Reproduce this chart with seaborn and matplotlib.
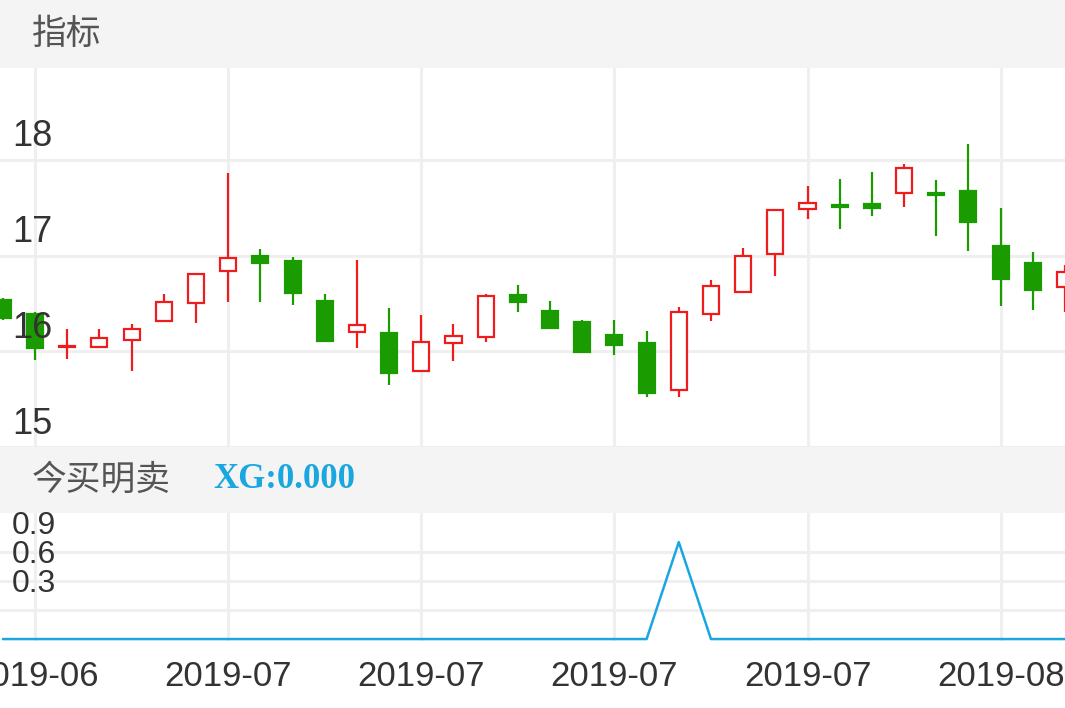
import numpy as np
import pandas as pd
import matplotlib
matplotlib.use("Agg")
import matplotlib.pyplot as plt
import seaborn as sns

# Données (open, close, high, low)
opens  = [16.54, 16.39, 16.04, 16.04, 16.12, 16.32, 16.50, 16.84, 17.00, 16.94, 16.53, 16.20,
          16.19, 15.79, 16.09, 16.15, 16.59, 16.42, 16.31, 16.17, 16.09, 15.60, 16.39, 16.62,
          17.02, 17.49, 17.53, 17.54, 17.65, 17.65, 17.68, 17.10, 16.92, 16.67]
closes = [16.35, 16.03, 16.06, 16.14, 16.23, 16.51, 16.81, 16.97, 16.92, 16.61, 16.11, 16.27,
          15.77, 16.10, 16.16, 16.58, 16.51, 16.24, 15.99, 16.07, 15.56, 16.41, 16.68, 17.00,
          17.48, 17.55, 17.51, 17.50, 17.91, 17.63, 17.35, 16.76, 16.64, 16.83]
highs  = [16.56, 16.41, 16.23, 16.23, 16.28, 16.60, 16.82, 17.86, 17.07, 16.98, 16.60, 16.95,
          16.45, 16.38, 16.29, 16.60, 16.69, 16.53, 16.33, 16.33, 16.21, 16.46, 16.75, 17.08,
          17.49, 17.73, 17.80, 17.87, 17.96, 17.79, 18.17, 17.50, 17.04, 16.90]
lows   = [16.33, 15.91, 15.92, 16.04, 15.79, 16.32, 16.30, 16.52, 16.52, 16.48, 16.11, 16.03,
          15.65, 15.78, 15.90, 16.10, 16.41, 16.23, 15.99, 15.96, 15.52, 15.52, 16.32, 16.62,
          16.79, 17.38, 17.28, 17.41, 17.51, 17.20, 17.05, 16.47, 16.43, 16.41]
xg = [0] * 34
xg[21] = 1

price_ticks = [15, 16, 17, 18]
sub_ticks = [0.3, 0.6, 0.9]
date_pos = [1, 7, 13, 19, 25, 31]
date_labels = ["2019-06", "2019-07", "2019-07", "2019-07", "2019-07", "2019-08"]

RED = "#ee1c1c"
GREEN = "#1a9c00"
GRID = "#efefef"
BAND = "#f4f4f4"
CYAN = "#1aa7e0"

sns.set_style("white")
plt.rcParams['font.family'] = ['Liberation Sans', 'Noto Sans CJK SC', 'DejaVu Sans']

W, H = 1065, 708
fig = plt.figure(figsize=(W / 100, H / 100), dpi=100)

def px_axes(top, bottom):
    return fig.add_axes([0, (H - bottom) / H, 1, (bottom - top) / H])

df = pd.DataFrame({"i": np.arange(len(opens)), "o": opens, "c": closes, "h": highs, "l": lows, "xg": xg})
df["up"] = df["c"] >= df["o"]
xlim = (-0.09, 33.0)

# bandeaux de titre
for top, bottom, label in [(0, 68, "指标"), (447, 513, "今买明卖")]:
    b = px_axes(top, bottom)
    b.set_facecolor(BAND)
    b.set_xticks([]); b.set_yticks([])
    for s in b.spines.values():
        s.set_visible(False)
    b.text(32 / W, 0.5, label, transform=b.transAxes, fontsize=25, color="#555555", va="center")
    if label == "今买明卖":
        b.text(213 / W, 0.5, "XG:0.000", transform=b.transAxes, fontsize=25, color=CYAN,
               va="center", fontweight="bold", family="Liberation Serif")

# graphique principal : chandeliers
ax = px_axes(68, 447)
ax.set_xlim(*xlim)
ax.set_ylim(15.0, 18.96)
for t in price_ticks:
    ax.axhline(t, color=GRID, lw=2.2, zorder=0)
for p in date_pos:
    ax.axvline(p, color=GRID, lw=2.2, zorder=0)
for _, r in df.iterrows():
    col = RED if r["up"] else GREEN
    lo, hi = min(r["o"], r["c"]), max(r["o"], r["c"])
    ax.vlines(r["i"], r["l"], lo, color=col, lw=1.6, zorder=2)
    ax.vlines(r["i"], hi, r["h"], color=col, lw=1.6, zorder=2)
    ax.bar(r["i"], max(hi - lo, 0.015), bottom=lo, width=0.5,
           facecolor="white" if r["up"] else col, edgecolor=col, linewidth=1.6, zorder=3)
for t in price_ticks:
    ax.text(12 / W, t + 0.24, str(t), transform=ax.get_yaxis_transform(), fontsize=26,
            color="#333333", va="center", zorder=5)
ax.set_xticks([]); ax.set_yticks([])
for s in ax.spines.values():
    s.set_visible(False)

# sous-graphique XG
ax2 = px_axes(513, 641)
ax2.set_xlim(*xlim)
ax2.set_ylim(-0.02, 1.30)
for t in sub_ticks:
    ax2.axhline(t, color=GRID, lw=2.2, zorder=0)
for p in date_pos:
    ax2.axvline(p, color=GRID, lw=2.2, zorder=0)
sns.lineplot(data=df, x="i", y="xg", ax=ax2, color=CYAN, lw=1.8, zorder=3)
for t in sub_ticks:
    ax2.text(12 / W, t + 0.27, f"{t:.1f}", transform=ax2.get_yaxis_transform(), fontsize=23,
             color="#333333", va="center", zorder=5)
ax2.set_xticks(date_pos)
ax2.set_xticklabels(date_labels, fontsize=25, color="#333333")
ax2.tick_params(axis="x", length=0, pad=14)
ax2.set_yticks([])
ax2.set_xlabel(""); ax2.set_ylabel("")
for s in ax2.spines.values():
    s.set_visible(False)

fig.savefig("out.png", dpi=100, facecolor="white")
